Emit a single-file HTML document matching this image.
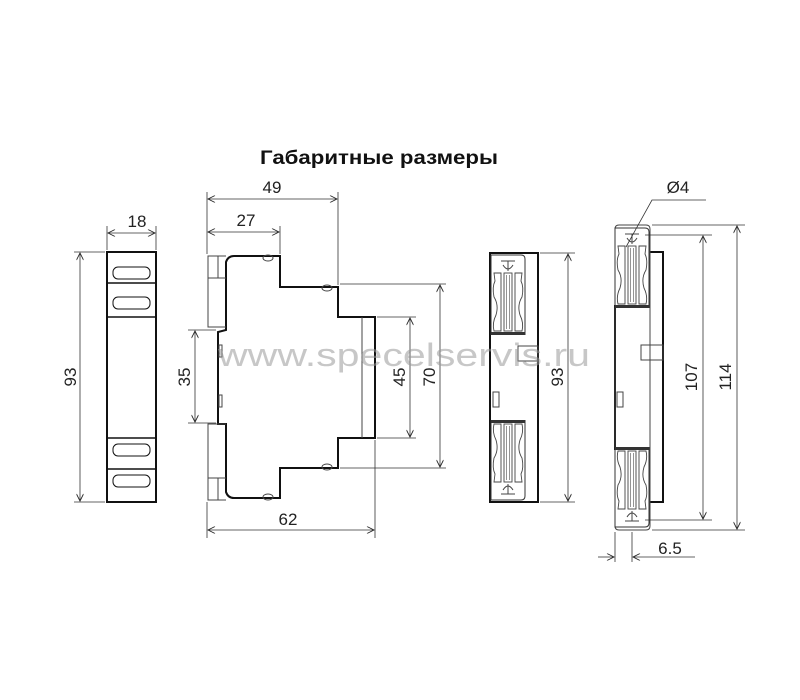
<!DOCTYPE html>
<html><head><meta charset="utf-8"><style>
html,body{margin:0;padding:0;background:#fff}
svg{display:block}
text{font-family:"Liberation Sans",Arial,sans-serif}
</style></head><body>
<svg width="800" height="700" viewBox="0 0 800 700" xmlns="http://www.w3.org/2000/svg">
<defs>
<marker id="a" viewBox="0 0 10 10" refX="10" refY="5" markerWidth="9" markerHeight="7" orient="auto-start-reverse" markerUnits="userSpaceOnUse">
<path d="M0,0 L10,5 L0,10" fill="none" stroke="#222" stroke-width="1.2"/>
</marker>
<g id="clip">
<path d="M0,82 V2 H30 Q34,2 34,6 V82" fill="none" stroke="#333" stroke-width="1"/>
<path d="M10,8 H24 M17,8 V18 M12,12 Q17,20 22,12" fill="none" stroke="#444" stroke-width="1"/>
<rect x="13" y="20" width="8" height="58" fill="none" stroke="#444" stroke-width="0.9"/>
<line x1="15.5" y1="22" x2="15.5" y2="76" stroke="#666" stroke-width="0.7"/>
<line x1="18.5" y1="22" x2="18.5" y2="76" stroke="#666" stroke-width="0.7"/>
<path d="M3,20 H10 V78 H3 Q1,70 5,62 Q8,52 3,44 Q1,34 4,28 Z" fill="none" stroke="#444" stroke-width="0.9"/>
<path d="M31,20 H24 V78 H31 Q33,70 29,62 Q26,52 31,44 Q33,34 30,28 Z" fill="none" stroke="#444" stroke-width="0.9"/>
<rect x="0" y="79" width="34" height="3" fill="#333"/>
</g>
</defs>

<text x="379" y="164" font-size="19" font-weight="bold" text-anchor="middle" fill="#111" textLength="238" lengthAdjust="spacingAndGlyphs">Габаритные размеры</text>

<g stroke="#111" stroke-width="1" fill="none">
<rect x="107" y="252" width="49" height="250" stroke-width="2"/>
<line x1="107" y1="283" x2="156" y2="283" stroke-width="1.6"/>
<line x1="107" y1="317" x2="156" y2="317" stroke-width="1.6"/>
<line x1="107" y1="438" x2="156" y2="438" stroke-width="1.6"/>
<line x1="107" y1="469" x2="156" y2="469" stroke-width="1.6"/>
<rect x="113" y="267" width="37" height="12" rx="5" stroke-width="1"/>
<rect x="113" y="297" width="37" height="12" rx="5" stroke-width="1"/>
<rect x="113" y="444" width="37" height="12" rx="5" stroke-width="1"/>
<rect x="113" y="475" width="37" height="12" rx="5" stroke-width="1"/>
</g>
<g stroke="#333" stroke-width="0.8" fill="none">
<line x1="107" y1="250" x2="107" y2="226"/><line x1="156" y1="250" x2="156" y2="226"/>
<line x1="108" y1="233" x2="155" y2="233" marker-start="url(#a)" marker-end="url(#a)"/>
<line x1="105" y1="252" x2="74" y2="252"/><line x1="105" y1="502" x2="74" y2="502"/>
<line x1="80" y1="253" x2="80" y2="501" marker-start="url(#a)" marker-end="url(#a)"/>
</g>
<text x="137" y="227" font-size="17" text-anchor="middle" fill="#222">18</text>
<text x="0" y="0" font-size="17" text-anchor="middle" fill="#222" transform="translate(76,377) rotate(-90)">93</text>

<g stroke="#111" stroke-width="2" fill="none">
<path d="M226,330 V262 Q228,256 234,256 H280 V287 H338 V317 H375 V438 H338 V468 H280 V498 H234 Q228,498 226,492 V424 H218 V332 Z"/>
</g>
<g stroke="#444" stroke-width="1" fill="none">
<path d="M226,256 H208 V327 H226"/>
<path d="M208,278 H226 M218,256 V278"/>
<path d="M226,500 H208 V424 H226"/>
<path d="M208,478 H226 M218,478 V500"/>
<line x1="362" y1="317" x2="362" y2="438"/>
<ellipse cx="268" cy="258" rx="5" ry="3"/><ellipse cx="327" cy="288" rx="5" ry="3"/>
<ellipse cx="327" cy="467" rx="5" ry="3"/><ellipse cx="268" cy="497" rx="5" ry="3"/>
<rect x="219" y="345" width="3" height="12"/><rect x="219" y="395" width="3" height="12"/>
</g>
<g stroke="#333" stroke-width="0.8" fill="none">
<line x1="207" y1="254" x2="207" y2="192"/>
<line x1="207" y1="502" x2="207" y2="538"/>
<line x1="338" y1="285" x2="338" y2="192"/>
<line x1="280" y1="254" x2="280" y2="226"/>
<line x1="375" y1="440" x2="375" y2="538"/>
<line x1="208" y1="199" x2="337" y2="199" marker-start="url(#a)" marker-end="url(#a)"/>
<line x1="208" y1="232" x2="279" y2="232" marker-start="url(#a)" marker-end="url(#a)"/>
<line x1="208" y1="530" x2="374" y2="530" marker-start="url(#a)" marker-end="url(#a)"/>
<line x1="216" y1="330" x2="188" y2="330"/><line x1="216" y1="423" x2="188" y2="423"/>
<line x1="195" y1="331" x2="195" y2="422" marker-start="url(#a)" marker-end="url(#a)"/>
<line x1="377" y1="317" x2="416" y2="317"/><line x1="377" y1="438" x2="416" y2="438"/>
<line x1="410" y1="318" x2="410" y2="437" marker-start="url(#a)" marker-end="url(#a)"/>
<line x1="340" y1="284" x2="446" y2="284"/><line x1="340" y1="468" x2="446" y2="468"/>
<line x1="440" y1="285" x2="440" y2="467" marker-start="url(#a)" marker-end="url(#a)"/>
</g>
<text x="272" y="193" font-size="17" text-anchor="middle" fill="#222">49</text>
<text x="246" y="226" font-size="17" text-anchor="middle" fill="#222">27</text>
<text x="288" y="525" font-size="17" text-anchor="middle" fill="#222">62</text>
<text x="0" y="0" font-size="17" text-anchor="middle" fill="#222" transform="translate(190,377) rotate(-90)">35</text>
<text x="0" y="0" font-size="17" text-anchor="middle" fill="#222" transform="translate(405,377) rotate(-90)">45</text>
<text x="0" y="0" font-size="17" text-anchor="middle" fill="#222" transform="translate(435,377) rotate(-90)">70</text>

<rect x="490" y="253" width="48" height="249" fill="none" stroke="#111" stroke-width="2"/>
<use href="#clip" transform="translate(491,253)"/>
<use href="#clip" transform="translate(491,502) scale(1,-1)"/>
<rect x="518" y="346" width="20" height="15" fill="none" stroke="#444"/>
<rect x="493" y="392" width="6" height="15" fill="none" stroke="#444"/>
<g stroke="#333" stroke-width="0.8" fill="none">
<line x1="540" y1="253" x2="575" y2="253"/><line x1="540" y1="502" x2="575" y2="502"/>
<line x1="568" y1="254" x2="568" y2="501" marker-start="url(#a)" marker-end="url(#a)"/>
</g>
<text x="0" y="0" font-size="17" text-anchor="middle" fill="#222" transform="translate(563,377) rotate(-90)">93</text>

<path d="M650,252 H663 V502 H650" fill="none" stroke="#111" stroke-width="2"/>
<line x1="615" y1="305" x2="615" y2="450" stroke="#111" stroke-width="2"/>
<path d="M619,225 H646 Q650,225 650,229 V526 Q650,530 646,530 H619 Q615,530 615,526 V229 Q615,225 619,225 Z" fill="none" stroke="#444" stroke-width="1"/>
<use href="#clip" transform="translate(615,226)"/>
<use href="#clip" transform="translate(615,529) scale(1,-1)"/>
<rect x="641" y="345" width="22" height="15" fill="none" stroke="#444"/>
<rect x="617" y="392" width="6" height="15" fill="none" stroke="#444"/>
<g stroke="#333" stroke-width="0.8" fill="none">
<line x1="652" y1="225" x2="745" y2="225"/><line x1="652" y1="530" x2="745" y2="530"/>
<line x1="645" y1="235" x2="712" y2="235"/><line x1="645" y1="520" x2="712" y2="520"/>
<line x1="737" y1="226" x2="737" y2="529" marker-start="url(#a)" marker-end="url(#a)"/>
<line x1="703" y1="236" x2="703" y2="519" marker-start="url(#a)" marker-end="url(#a)"/>
<polyline points="706,200 652,200 626,247"/>
<line x1="615" y1="532" x2="615" y2="562"/><line x1="632" y1="532" x2="632" y2="562"/>
<line x1="598" y1="557" x2="614" y2="557" marker-end="url(#a)"/>
<line x1="695" y1="557" x2="633" y2="557" marker-end="url(#a)"/>
</g>
<text x="678" y="193" font-size="17" text-anchor="middle" fill="#222">Ø4</text>
<text x="670" y="554" font-size="17" text-anchor="middle" fill="#222">6.5</text>
<text x="0" y="0" font-size="17" text-anchor="middle" fill="#222" transform="translate(697,377) rotate(-90)">107</text>
<text x="0" y="0" font-size="17" text-anchor="middle" fill="#222" transform="translate(731,377) rotate(-90)">114</text>

<text x="404" y="366" font-size="32" text-anchor="middle" fill="#999" fill-opacity="0.55" textLength="372" lengthAdjust="spacingAndGlyphs">www.specelservis.ru</text>
</svg>
</body></html>
